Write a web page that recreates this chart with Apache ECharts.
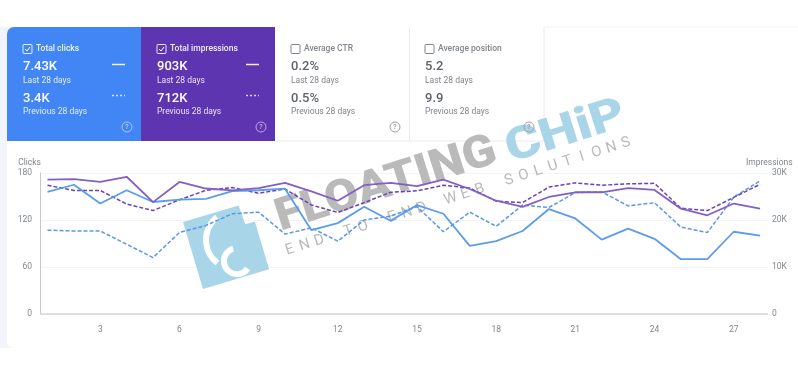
<!DOCTYPE html>
<html>
<head>
<meta charset="utf-8">
<style>
  html, body { margin: 0; padding: 0; background: #fff; }
  #main { width: 798px; height: 365px; }
</style>
<script src="https://cdn.jsdelivr.net/npm/echarts@6/dist/echarts.min.js"></script>
</head>
<body>
<div id="main"></div>
<script>
var days = [1,2,3,4,5,6,7,8,9,10,11,12,13,14,15,16,17,18,19,20,21,22,23,24,25,26,27,28];
var xTicks = [3,6,9,12,15,18,21,24,27];
var clicksNow = [156,165,141,158,143,146,147,157,158,160,107,116,137,119,139,128,87,93,106,134,122,95,109,96,70,70,105,100];
var clicksPrev = [107,106,106,89,72,104,113,128,130,102,110,93,120,125,137,105,130,112,139,136,155,156,138,142,111,104,149,170];
var impressionsNow = [28600,28700,28100,29200,23800,28100,26700,26300,26800,27900,26100,24100,27400,27900,27200,28600,26600,24100,22800,24900,25900,25900,26800,26400,22400,21000,23500,22400];
var impressionsPrev = [27400,26300,26300,23400,22000,24300,26300,26900,25700,26600,23200,21600,23700,25900,26200,27400,26800,24000,23700,27000,27900,27400,27700,27800,22500,22000,24800,27600];

var cards = [
  { title: 'Total clicks', now: '7.43K', prev: '3.4K', x: 7, w: 134, fill: '#4285f4', checked: true, r: [7, 0, 0, 0] },
  { title: 'Total impressions', now: '903K', prev: '712K', x: 141, w: 134, fill: '#5e35b1', checked: true, r: 0 },
  { title: 'Average CTR', now: '0.2%', prev: '0.5%', x: 275, w: 134, fill: '#fff', checked: false, r: 0 },
  { title: 'Average position', now: '5.2', prev: '9.9', x: 409, w: 135, fill: '#fff', checked: false, r: 0 }
];
var tagline = 'END TO END WEB SOLUTIONS';

var font = 'Roboto, sans-serif';
var wmGrey = '#bababa';
var wmBlue = '#a8d5e8';

function txt(x, y, text, size, color, weight) {
  return { type: 'text', x: x, y: y, z: 5, style: { text: text, font: (weight || 400) + ' ' + size + 'px ' + font, fill: color, textVerticalAlign: 'middle' } };
}

function cardParts(c) {
  var on = c.checked;
  var strong = on ? '#fff' : '#5f6368';
  var soft = on ? 'rgba(255,255,255,0.85)' : '#80868b';
  var parts = [
    { type: 'rect', z: 0, shape: { x: c.x, y: 27, width: c.w, height: 114, r: c.r }, style: { fill: c.fill } },
    { type: 'rect', z: 5, shape: { x: c.x + 16, y: 44.5, width: 9, height: 9, r: 1 }, style: { fill: 'transparent', stroke: on ? 'rgba(255,255,255,0.85)' : '#80868b', lineWidth: 1 } },
    txt(c.x + 29, 48.5, c.title, 8.5, on ? 'rgba(255,255,255,0.9)' : '#80868b', 500),
    txt(c.x + 16, 67, c.now, 13, strong, 500),
    txt(c.x + 16, 80.5, 'Last 28 days', 8.5, soft),
    txt(c.x + 16, 98.5, c.prev, 13, strong, 500),
    txt(c.x + 16, 111.5, 'Previous 28 days', 8.5, soft),
    { type: 'circle', z: 5, shape: { cx: c.x + 120, cy: 127, r: 5 }, style: { fill: 'transparent', stroke: on ? 'rgba(255,255,255,0.55)' : '#9aa0a6', lineWidth: 1 } },
    { type: 'text', z: 5, x: c.x + 120, y: 127, style: { text: '?', font: '7px ' + font, fill: on ? 'rgba(255,255,255,0.7)' : '#80868b', align: 'center', verticalAlign: 'middle' } }
  ];
  if (on) {
    parts.push({ type: 'polyline', z: 5, shape: { points: [[c.x + 18, 49], [c.x + 20, 51], [c.x + 23, 47]] }, style: { stroke: '#fff', lineWidth: 1, fill: null } });
    parts.push({ type: 'line', z: 5, shape: { x1: c.x + 105, y1: 64.5, x2: c.x + 118, y2: 64.5 }, style: { stroke: 'rgba(255,255,255,0.9)', lineWidth: 1.5 } });
    parts.push({ type: 'line', z: 5, shape: { x1: c.x + 105, y1: 95.5, x2: c.x + 118, y2: 95.5 }, style: { stroke: 'rgba(255,255,255,0.8)', lineWidth: 1.5, lineDash: [2, 2] } });
  }
  return parts;
}

// page tint and panel edges
var graphics = [
  { type: 'rect', z: 0, shape: { x: 0, y: 27, width: 20, height: 321 }, style: { fill: '#f1f4fb' } },
  { type: 'rect', z: 0, shape: { x: 7, y: 141, width: 791, height: 207, r: [0, 0, 0, 6] }, style: { fill: '#fff' } },
  { type: 'line', z: 0, shape: { x1: 544, y1: 27, x2: 798, y2: 27 }, style: { stroke: '#f1f3f4', lineWidth: 1 } }
];
cards.forEach(function (c) { graphics = graphics.concat(cardParts(c)); });
graphics.push(
  { type: 'line', z: 0, shape: { x1: 409.5, y1: 27, x2: 409.5, y2: 141 }, style: { stroke: '#e8eaed', lineWidth: 1 } },
  { type: 'line', z: 0, shape: { x1: 544, y1: 27, x2: 544, y2: 141 }, style: { stroke: '#e8eaed', lineWidth: 1 } },
  { type: 'line', z: 0, shape: { x1: 275, y1: 141, x2: 544, y2: 141 }, style: { stroke: '#e8eaed', lineWidth: 1 } }
);

// watermark, under the series lines
graphics.push({
  type: 'group', x: 183, y: 222, rotation: 16.6 * Math.PI / 180,
  children: [
    { type: 'polygon', z: 1, shape: { points: [[0, 0], [58, 0], [59, 20], [69, 20], [69, 70], [0, 70]] }, style: { fill: wmBlue } },
    { type: 'arc', z: 1, shape: { cx: 44.7, cy: 32, r: 29, startAngle: 2.51, endAngle: 4.33 }, style: { stroke: '#fff', lineWidth: 6, fill: null } },
    { type: 'arc', z: 1, shape: { cx: 40.5, cy: 52.9, r: 13, startAngle: 0.89, endAngle: 4.71 }, style: { stroke: '#fff', lineWidth: 6, fill: null } }
  ]
});
graphics.push({
  type: 'group', x: 277, y: 220, rotation: 17.5 * Math.PI / 180,
  children: [
    { type: 'text', z: 1, x: 0, y: 0, scaleX: 1.09, style: { text: 'FLOATING', font: '900 45px ' + font, fill: wmGrey, verticalAlign: 'middle' } },
    { type: 'text', z: 1, x: 240, y: 4, scaleX: 1.2, style: { text: 'CHiP', font: '900 45px ' + font, fill: wmBlue, verticalAlign: 'middle' } }
  ]
});
graphics.push({
  type: 'group', x: 290, y: 250, rotation: 17.66 * Math.PI / 180,
  children: tagline.split('').map(function (ch, i) {
    return { type: 'text', z: 1, x: i * 15.33, y: 0, style: { text: ch, font: '400 15px ' + font, fill: wmGrey, align: 'center', verticalAlign: 'middle' } };
  })
});

var axisText = { color: '#80868b', fontSize: 8.5, fontFamily: font };

function lineSeries(name, values, axis, color, dash, width) {
  return {
    name: name,
    type: 'line',
    yAxisIndex: axis,
    showSymbol: false,
    data: values.map(function (v, i) { return [days[i], v]; }),
    lineStyle: { color: color, type: dash ? [4, 2] : 'solid', width: width }
  };
}

var option = {
  animation: false,
  backgroundColor: '#fff',
  graphic: graphics,
  textStyle: { fontFamily: font },
  grid: { left: 40, right: 30, top: 173, bottom: 51 },
  xAxis: {
    type: 'value',
    min: 0.716,
    max: 28.3,
    splitLine: { show: false },
    axisLine: { show: false },
    axisTick: { show: false },
    axisLabel: { customValues: xTicks, color: '#80868b', fontSize: 8.5, margin: 11, fontFamily: font }
  },
  yAxis: [
    {
      type: 'value',
      name: 'Clicks',
      nameLocation: 'end',
      nameGap: 6,
      nameTextStyle: { color: '#80868b', fontSize: 8.5, align: 'right', padding: [0, -1, 0, 0] },
      min: 0, max: 180, interval: 60,
      axisLine: { show: true, onZero: false, lineStyle: { color: '#c4c7cb', width: 1 } },
      axisTick: { show: false },
      axisLabel: axisText,
      splitLine: { lineStyle: { color: '#f3f4f5', width: 1 } }
    },
    {
      type: 'value',
      name: 'Impressions',
      nameLocation: 'end',
      nameGap: 6,
      nameTextStyle: { color: '#80868b', fontSize: 8.5, align: 'left', padding: [0, 0, 0, -22] },
      min: 0, max: 30000, interval: 10000,
      axisLine: { show: false },
      axisTick: { show: false },
      axisLabel: { color: '#80868b', fontSize: 8.5, fontFamily: font, margin: 4, formatter: function (v) { return v === 0 ? '0' : v / 1000 + 'K'; } },
      splitLine: { show: false }
    }
  ],
  series: [
    lineSeries('Clicks previous', clicksPrev, 0, '#5b97ea', true, 1.5),
    lineSeries('Impressions previous', impressionsPrev, 1, '#6a42b8', true, 1.5),
    lineSeries('Clicks', clicksNow, 0, '#5c9ceb', false, 1.8),
    lineSeries('Impressions', impressionsNow, 1, '#8260c4', false, 1.8),
    {
      type: 'line', xAxisIndex: 0, yAxisIndex: 0, data: [], silent: true,
      markLine: { silent: true, symbol: 'none', label: { show: false }, lineStyle: { color: '#d4d6d9', type: 'solid', width: 1.5 }, data: [{ yAxis: 0 }] }
    }
  ]
};

echarts.init(document.getElementById('main')).setOption(option);
</script>
</body>
</html>
